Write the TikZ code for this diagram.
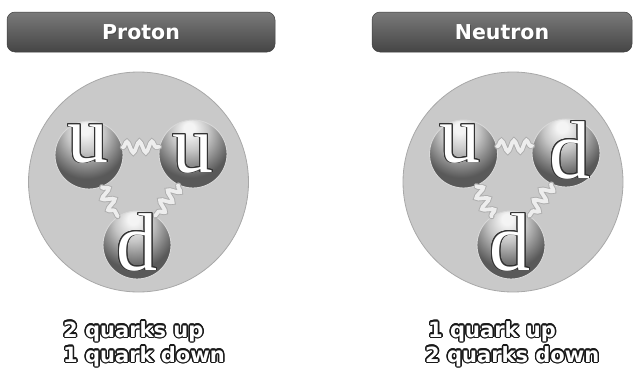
\documentclass[tikz,border=0pt]{standalone}
\usepackage{fontspec}
\usepackage[copies]{contour}
\usetikzlibrary{decorations.pathmorphing}
\newfontfamily\headfont{DejaVu Sans}
\newfontfamily\quarkfont{Liberation Serif}

\definecolor{hadron}{HTML}{C9C9C9}
\definecolor{hadronrim}{HTML}{A8A8A8}
\definecolor{qbody}{HTML}{595959}
\definecolor{qedge}{HTML}{474747}
\definecolor{qhi}{HTML}{F4F4F4}
\definecolor{qrim}{HTML}{D8D8D8}
\definecolor{bannertop}{HTML}{7A7A7A}
\definecolor{bannerbot}{HTML}{454545}
\definecolor{gluon}{HTML}{EDEDED}
\definecolor{gluonrim}{HTML}{ADADAD}

% soft glow behind the quark letter, placed above the ball centre
\pgfdeclareradialshading{quarkglow}{\pgfpoint{-3bp}{20bp}}{%
  color(0bp)=(qhi); color(4bp)=(qhi); color(14bp)=(qbody!35!white);
  color(30bp)=(qbody); color(55bp)=(qbody); color(80bp)=(qedge)}

\tikzset{
  hadronball/.style={circle, fill=hadron, draw=hadronrim, line width=0.8pt,
    minimum size=220pt, inner sep=0pt},
  quarkball/.style={circle, shading=quarkglow, draw=qrim, line width=0.9pt,
    minimum size=68pt, inner sep=0pt},
  qletter/.style={anchor=base, inner sep=0pt, text=white,
    font=\quarkfont\fontsize{82}{84}\selectfont},
  banner/.style={rounded corners=8pt, top color=bannertop, bottom color=bannerbot,
    draw=black!75, line width=0.5pt, minimum height=40pt, inner sep=0pt},
  bannertext/.style={text=white, font=\headfont\bfseries\fontsize{20.5}{24}\selectfont},
  countline/.style={anchor=base west, inner sep=0pt, text=white,
    font=\headfont\bfseries\fontsize{21}{24}\selectfont},
  wave/.style={decorate, decoration={snake, segment length=12.5pt, amplitude=5.5pt,
      pre length=0.5pt, post length=0.5pt}},
  gluonback/.style={wave, draw=gluonrim, line width=5.6pt, line cap=round},
  gluonfront/.style={wave, draw=gluon, line width=3.8pt, line cap=round},
}

\newcommand{\qglyph}[1]{\contourlength{0.9pt}\contour{black!80}{#1}}
\newcommand{\countglyph}[1]{\contourlength{1.4pt}\contour{black!90}{#1}}

\begin{document}
\begin{tikzpicture}[x=1pt, y=-1pt]
  \useasboundingbox (0,0) rectangle (634,372);

  % ---- headers
  \node[banner, minimum width=268pt] (protonbar) at (141,32) {};
  \node[bannertext, text=black!70] at ([shift={(1pt,-1.2pt)}]protonbar.center) {Proton};
  \node[bannertext] (protontitle) at (protonbar.center) {Proton};

  \node[banner, minimum width=260pt] (neutronbar) at (502,32) {};
  \node[bannertext, text=black!70] at ([shift={(1pt,-1.2pt)}]neutronbar.center) {Neutron};
  \node[bannertext] (neutrontitle) at (neutronbar.center) {Neutron};

  % ---- proton: u u d
  \node[hadronball] (proton) at (138.5,182) {};
  \node[quarkball] (pu1) at (89,155) {};
  \node[quarkball] (pu2) at (193,154) {};
  \node[quarkball] (pd1) at (137,245) {};
  \draw[gluonback]  (pu1.13) -- (pu2.168);
  \draw[gluonfront] (pu1.13) -- (pu2.168);
  \draw[gluonback]  (pu1.-68) -- (pd1.124);
  \draw[gluonfront] (pu1.-68) -- (pd1.124);
  \draw[gluonback]  (pu2.-115) -- (pd1.58);
  \draw[gluonfront] (pu2.-115) -- (pd1.58);
  \node[qletter] (pu1t) at (88,162) {\qglyph{u}};
  \node[qletter] (pu2t) at (193,172) {\qglyph{u}};
  \node[qletter] (pd1t) at (137,270) {\qglyph{d}};

  % ---- neutron: u d d
  \node[hadronball] (neutron) at (513,182) {};
  \node[quarkball] (nu1) at (463.5,154) {};
  \node[quarkball] (nd1) at (566,153) {};
  \node[quarkball] (nd2) at (511,245) {};
  \draw[gluonback]  (nu1.13) -- (nd1.168);
  \draw[gluonfront] (nu1.13) -- (nd1.168);
  \draw[gluonback]  (nu1.-68) -- (nd2.124);
  \draw[gluonfront] (nu1.-68) -- (nd2.124);
  \draw[gluonback]  (nd1.-115) -- (nd2.58);
  \draw[gluonfront] (nd1.-115) -- (nd2.58);
  \node[qletter] (nu1t) at (460,162) {\qglyph{u}};
  \node[qletter] (nd1t) at (570,178) {\qglyph{d}};
  \node[qletter] (nd2t) at (510,270) {\qglyph{d}};

  % ---- quark counts
  \node[countline] (pline1) at (63,337) {\countglyph{2 quarks up}};
  \node[countline] (pline2) at (63,362) {\countglyph{1 quark down}};
  \node[countline] (nline1) at (428,337) {\countglyph{1 quark up}};
  \node[countline] (nline2) at (425,362) {\countglyph{2 quarks down}};
\end{tikzpicture}
\end{document}
